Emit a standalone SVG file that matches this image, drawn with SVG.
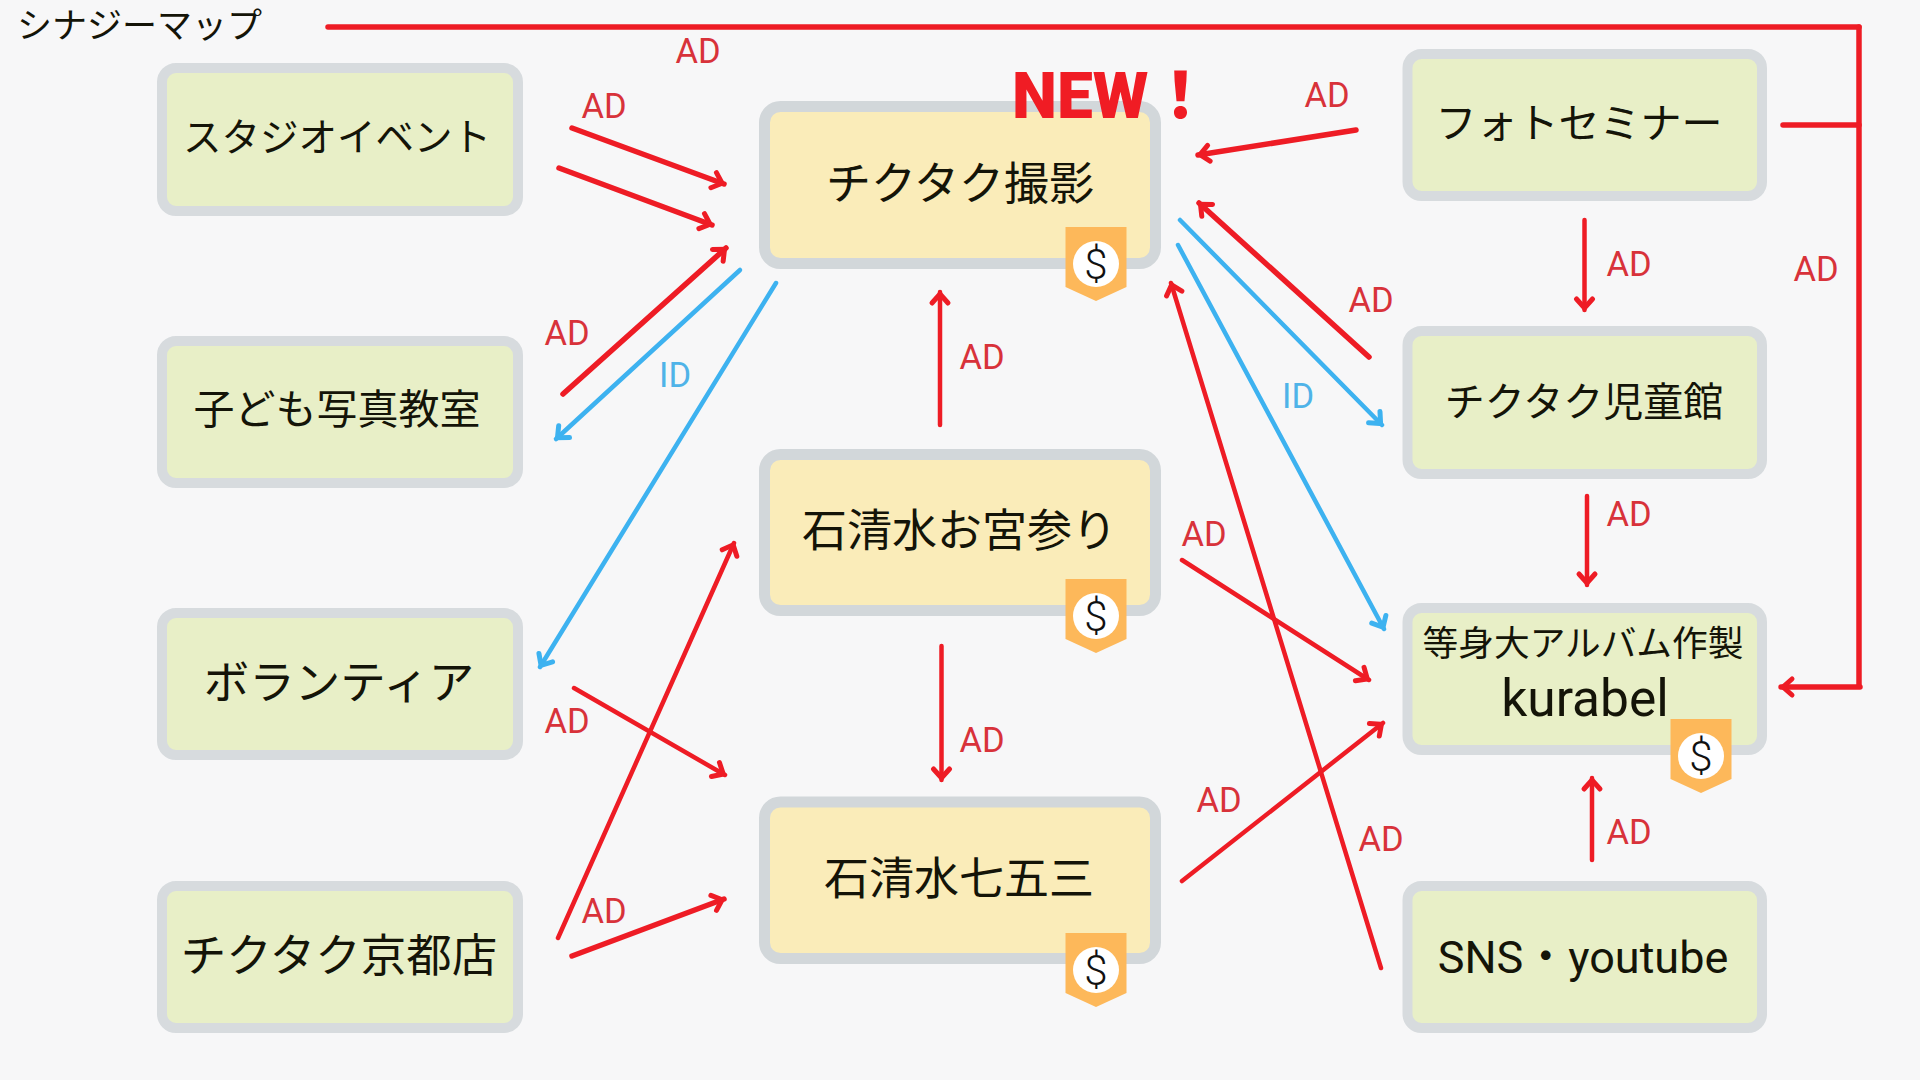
<svg xmlns="http://www.w3.org/2000/svg" width="1920" height="1080" viewBox="0 0 1920 1080">
<style>
text{font-family:"Roboto","Noto Sans CJK JP",sans-serif;}
.g{fill:#E8EFC7;stroke:#D7DBDE;stroke-width:10}
.y{fill:#FAECB9;stroke:#D2D7DA;stroke-width:11}
.t{fill:#141408;text-anchor:middle}
.ad{font-size:34.500px;fill:#D8323A;font-weight:400}
.id{font-size:34.500px;fill:#4FB3E8;font-weight:400}
.r{stroke:#EE1C25;fill:none;stroke-linecap:round}
.b{stroke:#3DB2F0;fill:none;stroke-linecap:round}
.w4{stroke-width:4.500}.w5{stroke-width:5.500}
.d{font-size:42px;font-weight:300;text-anchor:middle;fill:#111}
.ra{marker-end:url(#mr)}.ba{marker-end:url(#mb)}
</style>
<defs>
<marker id="mr" markerUnits="userSpaceOnUse" markerWidth="24" markerHeight="24" refX="20" refY="12" orient="auto"><path d="M9 4L18 12L9 20" fill="none" stroke="#EE1C25" stroke-width="5" stroke-linecap="round"/></marker>
<marker id="mb" markerUnits="userSpaceOnUse" markerWidth="24" markerHeight="24" refX="20" refY="12" orient="auto"><path d="M9 4L18 12L9 20" fill="none" stroke="#3DB2F0" stroke-width="5" stroke-linecap="round"/></marker>
</defs>
<rect width="1920" height="1080" fill="#F7F7F8"/>
<text x="17" y="38" font-size="35" fill="#141408">シナジーマップ</text>
<g id="n1"><rect class="g" x="162" y="68" width="356" height="143" rx="14"/><text class="t" x="337" y="151" font-size="38.500">スタジオイベント</text></g>
<g id="n2"><rect class="g" x="162" y="341" width="356" height="142" rx="14"/><text class="t" x="337" y="424" font-size="41">子ども写真教室</text></g>
<g id="n3"><rect class="g" x="162" y="613" width="356" height="142" rx="14"/><text class="t" x="339" y="699" font-size="45.500">ボランティア</text></g>
<g id="n4"><rect class="g" x="162" y="886" width="356" height="142" rx="14"/><text class="t" x="339" y="972" font-size="45.500">チクタク京都店</text></g>
<g id="n5"><rect class="y" x="764.500" y="106.500" width="391" height="157" rx="16"/><text class="t" x="960" y="200" font-size="45">チクタク撮影</text>
<g transform="translate(1065.500 227)"><path d="M0 0H61V60L30.500 74L0 60Z" fill="#FDB85A"/><circle cx="30.500" cy="37" r="23" fill="#fff"/><text class="d" x="30.500" y="52">$</text></g></g>
<g id="n6"><rect class="y" x="764.500" y="454.500" width="391" height="156" rx="16"/><text class="t" x="959.500" y="547" font-size="45">石清水お宮参り</text>
<g transform="translate(1065.500 579)"><path d="M0 0H61V60L30.500 74L0 60Z" fill="#FDB85A"/><circle cx="30.500" cy="37" r="23" fill="#fff"/><text class="d" x="30.500" y="52">$</text></g></g>
<g id="n7"><rect class="y" x="764.500" y="802" width="391" height="156.500" rx="16"/><text class="t" x="959" y="895" font-size="45">石清水七五三</text>
<g transform="translate(1065.500 933)"><path d="M0 0H61V60L30.500 74L0 60Z" fill="#FDB85A"/><circle cx="30.500" cy="37" r="23" fill="#fff"/><text class="d" x="30.500" y="52">$</text></g></g>
<g id="n8"><rect class="g" x="1407.500" y="54" width="354.500" height="142" rx="14"/><text class="t" x="1579" y="138" font-size="41">フォトセミナー</text></g>
<g id="n9"><rect class="g" x="1407.500" y="331" width="354.500" height="143" rx="14"/><text class="t" x="1584" y="416" font-size="40">チクタク児童館</text></g>
<g id="n10"><rect class="g" x="1407.500" y="608" width="354.500" height="142" rx="14"/><text class="t" x="1583" y="656" font-size="35.700">等身大アルバム作製</text><text class="t" x="1585" y="716" font-size="51.500">kurabel</text>
<g transform="translate(1670.500 719)"><path d="M0 0H61V60L30.500 74L0 60Z" fill="#FDB85A"/><circle cx="30.500" cy="37" r="23" fill="#fff"/><text class="d" x="30.500" y="52">$</text></g></g>
<g id="n11"><rect class="g" x="1407.500" y="886" width="354.500" height="142" rx="14"/><text class="t" x="1583" y="973" font-size="45">SNS・youtube</text></g>
<text id="new" x="1012" y="118" font-size="64" font-weight="900" fill="#F01C24">NEW！</text>
<g id="connectors">
<path class="r w5" d="M328 27H1859"/>
<path class="r w5" d="M1859 27V686"/>
<path class="r w5" d="M1783 125H1859"/>
<path class="r w5 ra" d="M1860 687H1781"/>
<path class="r w5 ra" d="M572 128L724 184"/>
<path class="r w5 ra" d="M559 168L712 225"/>
<path class="r w5 ra" d="M563 394L726 248"/>
<path class="b w4 ba" d="M740 270L556 439"/>
<path class="b w4 ba" d="M776 283L540 667"/>
<path class="r w4 ra" d="M940 425V292"/>
<path class="r w5 ra" d="M1356 130L1198 155"/>
<path class="r w5 ra" d="M1369 357L1199 203"/>
<path class="b w4 ba" d="M1180 220L1382 425"/>
<path class="b w4 ba" d="M1178 245L1384 629"/>
<path class="r w4 ra" d="M1381 968L1171 283"/>
<path class="r w4 ra" d="M1584.500 220V310"/>
<path class="r w4 ra" d="M1587 496V585"/>
<path class="r w4 ra" d="M1592 860V778"/>
<path class="r w4 ra" d="M1182 881L1383 723"/>
<path class="r w4 ra" d="M1182 560L1369 680"/>
<path class="r w4 ra" d="M574 688L725 775"/>
<path class="r w4 ra" d="M558 938L734 543"/>
<path class="r w5 ra" d="M572 956L724 899"/>
<path class="r w4 ra" d="M941.500 646V780"/>
<text class="ad" x="675.500" y="63">AD</text>
<text class="ad" x="581.500" y="118">AD</text>
<text class="ad" x="544.500" y="345">AD</text>
<text class="id" x="659" y="387">ID</text>
<text class="ad" x="959.500" y="369">AD</text>
<text class="ad" x="1304.500" y="107">AD</text>
<text class="ad" x="1606.500" y="276">AD</text>
<text class="ad" x="1793.500" y="281">AD</text>
<text class="ad" x="1348.500" y="312">AD</text>
<text class="id" x="1282" y="408">ID</text>
<text class="ad" x="1181.500" y="546">AD</text>
<text class="ad" x="1606.500" y="526">AD</text>
<text class="ad" x="544.500" y="733">AD</text>
<text class="ad" x="581.500" y="923">AD</text>
<text class="ad" x="959.500" y="752">AD</text>
<text class="ad" x="1196.500" y="812">AD</text>
<text class="ad" x="1358.500" y="851">AD</text>
<text class="ad" x="1606.500" y="844">AD</text>
</g>
</svg>
